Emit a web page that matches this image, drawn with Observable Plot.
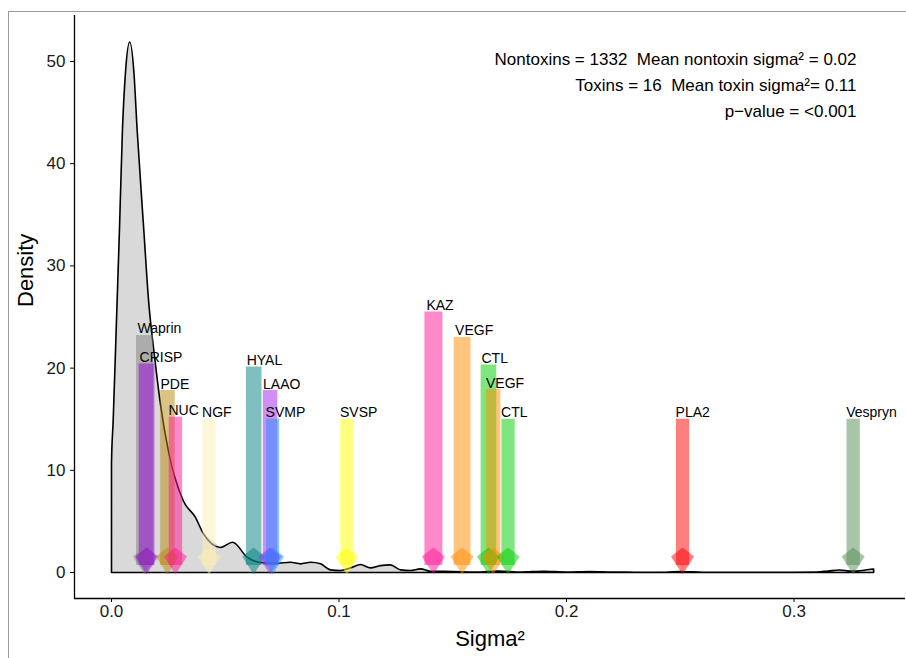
<!DOCTYPE html>
<html><head><meta charset="utf-8">
<script src="https://cdn.jsdelivr.net/npm/d3@7"></script>
<script src="https://cdn.jsdelivr.net/npm/@observablehq/plot@0.6"></script>
<style>
html,body{margin:0;padding:0;background:#fff;overflow:hidden;width:906px;height:658px;}
#frame{position:absolute;left:8px;top:11px;width:1200px;height:900px;border:1px solid #9a9a9a;}
#chart{position:absolute;left:0;top:0;}
</style></head><body>
<div id="frame"></div>
<div id="chart"></div>
<script>
// Kernel density of nontoxin sigma^2
const densitySigma = [0, 0.00075, 0.0022, 0.0035, 0.0048, 0.0062, 0.008, 0.0098, 0.0113, 0.0142, 0.0163, 0.019, 0.0215, 0.025, 0.0316, 0.0369, 0.0404, 0.0479, 0.0532, 0.0598, 0.0655, 0.072, 0.0787, 0.0831, 0.0875, 0.0919, 0.0963, 0.1007, 0.1051, 0.1095, 0.1138, 0.1182, 0.1226, 0.127, 0.1314, 0.1358, 0.1402, 0.15, 0.16, 0.17, 0.18, 0.19, 0.2, 0.21, 0.22, 0.23, 0.24, 0.25, 0.26, 0.27, 0.28, 0.29, 0.3, 0.31, 0.315, 0.32, 0.325, 0.33, 0.335];
const densityValue = [10.7, 14.9, 24.7, 33.5, 43.2, 49.1, 51.9, 49.1, 43.2, 33.5, 26.6, 21.0, 16.5, 11.9, 7.0, 5.4, 3.8, 2.45, 2.96, 1.47, 0.98, 0.9, 1.0, 0.85, 1.0, 0.85, 0.26, 0.2, 0.46, 0.78, 0.46, 0.68, 0.75, 0.26, 0.2, 0.36, 0.13, 0.1, 0.05, 0.15, 0.05, 0.12, 0.05, 0.1, 0.05, 0.03, 0.02, 0.1, 0.03, 0.02, 0.02, 0.02, 0.03, 0.05, 0.15, 0.25, 0.15, 0.2, 0.35];

// Toxins
const toxinNames = ["Waprin", "CRISP", "PDE", "NUC", "NGF", "HYAL", "LAAO", "SVMP", "SVSP", "KAZ", "VEGF", "CTL", "VEGF", "CTL", "PLA2", "Vespryn"];
const toxinSigma = [0.0145, 0.0154, 0.0246, 0.0281, 0.0429, 0.0625, 0.0697, 0.0708, 0.1035, 0.1415, 0.1541, 0.1657, 0.1677, 0.1743, 0.251, 0.326];
const toxinTop = [23.2, 20.4, 17.8, 15.2, 15, 20.1, 17.8, 15, 15, 25.5, 23.0, 20.3, 17.9, 15, 15, 15];
const toxinColors = ["#808080", "#9400d3", "#b8860b", "#ff1493", "#fff0b4", "#008080", "#a020f0", "#1e90ff", "#ffff00", "#ff1493", "#ff8c00", "#00cd00", "#ff8c00", "#00cd00", "#ff0000", "#548b54"];

const xTicks = [0, 0.1, 0.2, 0.3];
const yTicks = [0, 10, 20, 30, 40, 50];
const annotationLines = ["Nontoxins = 1332  Mean nontoxin sigma\u00b2 = 0.02", "Toxins = 16  Mean toxin sigma\u00b2= 0.11", "p\u2212value = <0.001"];

// table building
const density = densitySigma.map((s, i) => ({sigma: s, value: densityValue[i]}));
const outline = [{sigma: densitySigma[0], value: 0}, ...density,
  {sigma: densitySigma[densitySigma.length - 1], value: 0}, {sigma: densitySigma[0], value: 0}];
const toxins = toxinNames.map((n, i) => ({name: n, sigma: toxinSigma[i], top: toxinTop[i], color: toxinColors[i]}));

const xDomain = [-0.01626, 0.3490];
const yDomain = [-2.54, 54.5];
const barEnd = 0.7;
const headY = 1.57;
const kite = {draw(ctx) { ctx.moveTo(0, -9); ctx.lineTo(11.5, 0); ctx.lineTo(0, 18); ctx.lineTo(-11.5, 0); ctx.closePath(); }};
const font = "'Liberation Sans', Arial, Helvetica, sans-serif";

const chart = Plot.plot({
  width: 906, height: 658,
  marginLeft: 74, marginRight: 1, marginTop: 15, marginBottom: 60,
  x: {domain: xDomain}, y: {domain: yDomain},
  color: {type: "identity"},
  style: {fontFamily: font, background: "transparent", overflow: "visible"},
  marks: [
    Plot.areaY(density, {x: "sigma", y: "value", fill: "#d9d9d9"}),
    Plot.line(outline, {x: "sigma", y: "value", stroke: "black", strokeWidth: 1.6, curve: "monotone-x"}),
    Plot.ruleX(toxins, {x: "sigma", y1: "top", y2: barEnd, stroke: "color", strokeOpacity: 0.5, strokeWidth: d => 13.3 + (d.top - 15) * 0.45}),
    Plot.dot(toxins, {x: "sigma", y: headY, symbol: kite, fill: "color", fillOpacity: 0.5, stroke: "none"}),
    Plot.text(toxins, {x: "sigma", y: "top", text: "name", textAnchor: "start", lineAnchor: "bottom", dx: -7, dy: -2, fontSize: 14, fill: "black"}),
    Plot.text([annotationLines.join("\n")], {frameAnchor: "top-right", textAnchor: "end", lineAnchor: "top", dx: -49, dy: 31, lineHeight: 1.53, fontSize: 17, fill: "black"}),
    Plot.ruleX([xDomain[0]], {stroke: "black", strokeWidth: 1.3}),
    Plot.ruleY([yDomain[0]], {stroke: "black", strokeWidth: 1.3}),
    Plot.axisY({ticks: yTicks, tickSize: 4, tickPadding: 5, fontSize: 17, label: null, stroke: "black", fill: "#1a1a1a"}),
    Plot.axisX({ticks: xTicks, tickFormat: d3.format(".1f"), tickSize: 4, tickPadding: 2, fontSize: 17, label: null, stroke: "black", fill: "#1a1a1a"}),
    Plot.text(["Sigma\u00b2"], {frameAnchor: "bottom", lineAnchor: "bottom", dy: 47, fontSize: 22, fill: "black"}),
    Plot.text(["Density"], {frameAnchor: "left", rotate: -90, lineAnchor: "bottom", dx: -42, fontSize: 22, fill: "black"})
  ]
});
document.getElementById("chart").appendChild(chart);
</script>
</body></html>
